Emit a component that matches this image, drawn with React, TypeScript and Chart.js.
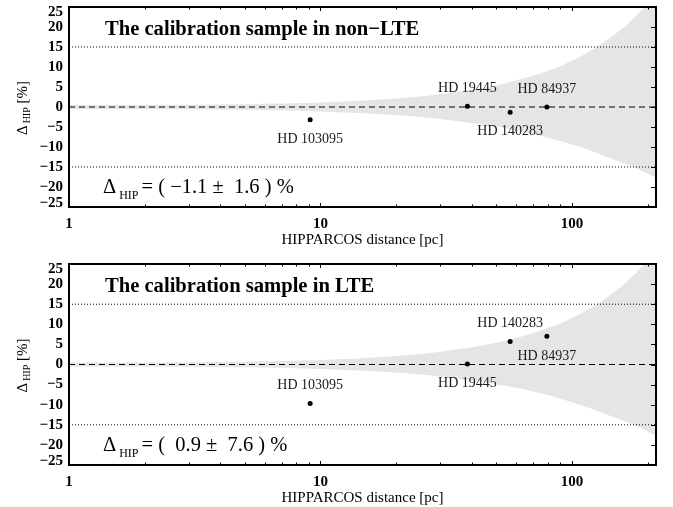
import React, { useEffect, useRef } from "react";
import { Chart, registerables } from "chart.js";
Chart.register(...registerables);

// ---------- data ----------
const STARS = ["HD 103095", "HD 19445", "HD 140283", "HD 84937"];
const DIST_PC = [9.1, 38.4, 56.8, 79.5];
const DELTA_NLTE = [-3.2, 0.2, -1.3, 0.0];
const DELTA_LTE = [-9.7, 0.15, 5.75, 7.0];
const LABEL_SIDE_NLTE = ["below", "above", "below", "above"];
const LABEL_SIDE_LTE = ["above", "below", "above", "below"];

const BAND_DIST = [1, 2, 5, 10, 20, 30, 40, 50, 60, 70, 80, 90, 100, 120, 140, 160, 180, 200, 216];
const BAND_UPPER = [0.5, 0.5, 0.7, 1.1, 2.1, 3.2, 4.3, 5.4, 6.6, 7.8, 9.0, 10.2, 11.6, 14.2, 17.0, 19.8, 22.8, 26.0, 28.6];
const BAND_LOWER = [-0.5, -0.5, -0.7, -1.1, -2.0, -3.0, -4.0, -4.9, -5.8, -6.7, -7.6, -8.5, -9.4, -11.0, -12.6, -14.0, -15.3, -16.6, -17.7];

const Y_TICKS = [25, 20, 15, 10, 5, 0, -5, -10, -15, -20, -25];
const X_MAJOR = [1, 10, 100];
const X_MINOR = [2, 3, 4, 5, 6, 7, 8, 9, 20, 30, 40, 50, 60, 70, 80, 90, 200];
const X_MIN = 1;
const X_MAX = 216;
const Y_MIN = -25;
const Y_MAX = 25;
const REF_DASHED = [0];
const REF_DOTTED = [15, -15];

const TITLE_NLTE = "The calibration sample in non\u2212LTE";
const TITLE_LTE = "The calibration sample in LTE";
const RESULT_NLTE = "= ( \u22121.1 \u00b1  1.6 ) %";
const RESULT_LTE = "= (  0.9 \u00b1  7.6 ) %";
const X_TITLE = "HIPPARCOS distance [pc]";

const FAMILY = '"Liberation Serif", "Times New Roman", serif';
const W = 673;

const fmt = (v: number) => (v < 0 ? "\u2212" + Math.abs(v) : String(v));

const decorPlugin = {
  id: "decor",
  afterDraw(chart: any, _args: any, opts: any) {
    const { ctx, chartArea: a, scales } = chart;
    const x = scales.x;
    const y = scales.y;
    ctx.save();
    // frame
    ctx.strokeStyle = "#000";
    ctx.lineWidth = 2;
    ctx.strokeRect(a.left, a.top, a.right - a.left, a.bottom - a.top);
    // right y ticks
    ctx.lineWidth = 1;
    ctx.beginPath();
    for (const v of Y_TICKS) {
      if (v === Y_MAX || v === Y_MIN) continue;
      const py = Math.round(y.getPixelForValue(v)) + 0.5;
      ctx.moveTo(a.right - 5, py);
      ctx.lineTo(a.right, py);
    }
    // x ticks top & bottom
    for (const v of X_MAJOR) {
      if (v === X_MIN) continue;
      const px = Math.round(x.getPixelForValue(v)) + 0.5;
      ctx.moveTo(px, a.bottom);
      ctx.lineTo(px, a.bottom - 4);
      ctx.moveTo(px, a.top);
      ctx.lineTo(px, a.top + 4);
    }
    for (const v of X_MINOR) {
      const px = Math.round(x.getPixelForValue(v)) + 0.5;
      ctx.moveTo(px, a.bottom);
      ctx.lineTo(px, a.bottom - 2.5);
      ctx.moveTo(px, a.top);
      ctx.lineTo(px, a.top + 2.5);
    }
    ctx.stroke();

    // y tick labels
    ctx.fillStyle = "#000";
    ctx.font = `bold 15px ${FAMILY}`;
    ctx.textAlign = "right";
    ctx.textBaseline = "middle";
    for (const v of Y_TICKS) {
      let py = y.getPixelForValue(v);
      if (v === Y_MAX) py += 5;
      if (v === Y_MIN) py -= 4;
      ctx.fillText(fmt(v), a.left - 6, py);
    }

    // y axis title (rotated) Δ_HIP [%]
    ctx.save();
    ctx.translate(22, (a.top + a.bottom) / 2 + 1);
    ctx.rotate(-Math.PI / 2);
    ctx.textAlign = "left";
    ctx.textBaseline = "alphabetic";
    ctx.font = `15px ${FAMILY}`;
    const wD = ctx.measureText("\u0394").width;
    const wB = ctx.measureText(" [%]").width;
    ctx.font = `10px ${FAMILY}`;
    const wH = ctx.measureText("HIP").width;
    const total = wD + 2 + wH + wB;
    let ux = -total / 2;
    ctx.font = `15px ${FAMILY}`;
    ctx.fillText("\u0394", ux, 5);
    ux += wD + 2;
    ctx.font = `10px ${FAMILY}`;
    ctx.fillText("HIP", ux, 8);
    ux += wH;
    ctx.font = `15px ${FAMILY}`;
    ctx.fillText(" [%]", ux, 5);
    ctx.restore();

    // panel title
    ctx.textAlign = "left";
    ctx.textBaseline = "alphabetic";
    ctx.font = `bold 20.6px ${FAMILY}`;
    ctx.fillText(opts.title, 105, a.top + 28);

    // result annotation
    const by = a.bottom - 14;
    let tx = 103;
    ctx.font = `20.5px ${FAMILY}`;
    ctx.fillText("\u0394", tx, by);
    tx += ctx.measureText("\u0394").width + 3;
    ctx.font = `12px ${FAMILY}`;
    ctx.fillText("HIP", tx, by + 6);
    tx += ctx.measureText("HIP").width + 3;
    ctx.font = `20.5px ${FAMILY}`;
    ctx.fillText(opts.result, tx, by);

    // star labels
    const meta = chart.getDatasetMeta(opts.pointsIndex);
    ctx.font = `14px ${FAMILY}`;
    ctx.fillStyle = "#1a1a1a";
    ctx.textAlign = "center";
    meta.data.forEach((pt: any, i: number) => {
      const center = opts.sides[i] === "above" ? pt.y - 19 : pt.y + 18.5;
      ctx.fillText(STARS[i], pt.x, center + 4.7);
    });
    ctx.restore();
  },
};

type PanelProps = {
  top: number;
  height: number;
  padTop: number;
  axisH: number;
  titlePad: number;
  title: string;
  result: string;
  delta: number[];
  sides: string[];
};

function Panel(p: PanelProps) {
  const ref = useRef<HTMLCanvasElement>(null);
  useEffect(() => {
    if (!ref.current) return;
    const upper = BAND_DIST.map((d, i) => ({ x: d, y: BAND_UPPER[i] }));
    const lower = BAND_DIST.map((d, i) => ({ x: d, y: BAND_LOWER[i] }));
    const refLine = (v: number, dash: number[]) => ({
      type: "line",
      data: [
        { x: X_MIN, y: v },
        { x: X_MAX, y: v },
      ],
      borderColor: "#000",
      borderWidth: 1,
      borderDash: dash,
      pointRadius: 0,
      fill: false,
      order: 5,
    });
    const datasets: any[] = [
      {
        type: "line",
        data: upper,
        borderWidth: 0,
        borderColor: "rgba(0,0,0,0)",
        backgroundColor: "#e5e5e5",
        pointRadius: 0,
        fill: "+1",
        cubicInterpolationMode: "monotone",
        order: 10,
      },
      {
        type: "line",
        data: lower,
        borderWidth: 0,
        borderColor: "rgba(0,0,0,0)",
        pointRadius: 0,
        fill: false,
        cubicInterpolationMode: "monotone",
        order: 10,
      },
      ...REF_DASHED.map((v) => refLine(v, [6, 4])),
      ...REF_DOTTED.map((v) => refLine(v, [1, 2])),
      {
        type: "scatter",
        data: DIST_PC.map((d, i) => ({ x: d, y: p.delta[i] })),
        backgroundColor: "#000",
        borderColor: "#000",
        pointRadius: 2.5,
        borderWidth: 0,
        showLine: false,
        order: 0,
      },
    ];
    const pointsIndex = datasets.length - 1;
    const chart = new Chart(ref.current, {
      type: "line",
      data: { datasets },
      options: {
        responsive: false,
        animation: false,
        devicePixelRatio: 1,
        events: [],
        layout: { padding: { top: p.padTop, right: 17, left: 0, bottom: 0 } },
        plugins: {
          legend: { display: false },
          tooltip: { enabled: false },
          decor: { title: p.title, result: p.result, sides: p.sides, pointsIndex },
        } as any,
        scales: {
          x: {
            type: "logarithmic",
            min: X_MIN,
            max: X_MAX,
            afterBuildTicks: (s: any) => {
              s.ticks = X_MAJOR.map((v) => ({ value: v }));
            },
            afterFit: (s: any) => {
              s.height = p.axisH;
            },
            grid: { display: false, drawTicks: false },
            border: { display: false },
            ticks: {
              color: "#000",
              font: { family: FAMILY, size: 15, weight: "bold" },
              padding: 8,
              maxRotation: 0,
              autoSkip: false,
              callback: (v: any) => String(v),
            },
            title: {
              display: true,
              text: X_TITLE,
              color: "#000",
              font: { family: FAMILY, size: 15 },
              padding: { top: 0, bottom: p.titlePad },
            },
          },
          y: {
            type: "linear",
            min: Y_MIN,
            max: Y_MAX,
            afterFit: (s: any) => {
              s.width = 69;
            },
            grid: { display: false, drawTicks: false },
            border: { display: false },
            ticks: { display: false, stepSize: 5 },
          },
        } as any,
      },
      plugins: [decorPlugin as any],
    } as any);
    return () => chart.destroy();
  }, []);
  return (
    <canvas
      ref={ref}
      width={W}
      height={p.height}
      style={{ position: "absolute", left: 0, top: p.top, width: W, height: p.height, display: "block" }}
    />
  );
}

export default function App() {
  return (
    <div style={{ position: "fixed", left: 0, top: 0, width: W, height: 507, background: "#fff" }}>
      <Panel
        top={0}
        height={253}
        padTop={7}
        axisH={46}
        titlePad={4}
        title={TITLE_NLTE}
        result={RESULT_NLTE}
        delta={DELTA_NLTE}
        sides={LABEL_SIDE_NLTE}
      />
      <Panel
        top={253}
        height={254}
        padTop={11}
        axisH={42}
        titlePad={0}
        title={TITLE_LTE}
        result={RESULT_LTE}
        delta={DELTA_LTE}
        sides={LABEL_SIDE_LTE}
      />
    </div>
  );
}
